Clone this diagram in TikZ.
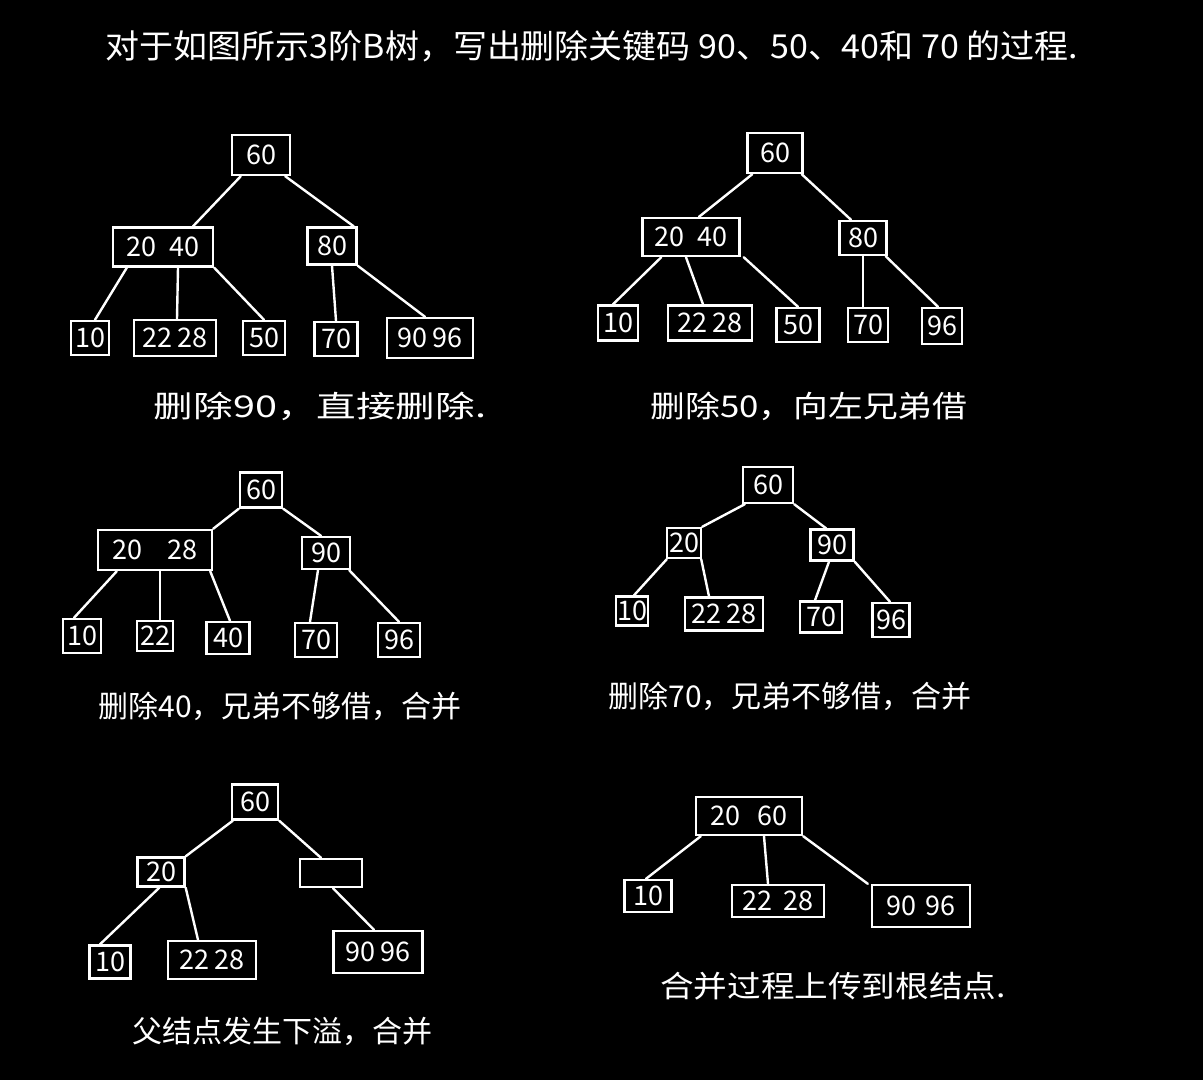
\documentclass[tikz,border=0pt]{standalone}
\usepackage{fontspec}
\usepackage{graphicx}
\setmainfont{Noto Sans CJK SC}
\begin{document}
\begin{tikzpicture}[x=1pt,y=-1pt,
  kbox/.style={draw=white,line width=2.4pt,text=white,inner sep=0pt,
    font=\fontsize{27}{29}\selectfont,minimum height=#1},
  kbox/.default=36pt,
  edge/.style={draw=white,line width=2.4pt,line cap=round},
  captxt/.style={text=white,font=\fontsize{30}{33}\selectfont,inner sep=0pt}]
\useasboundingbox (0,0) rectangle (1203,1080);
\fill[black] (0,0) rectangle (1203,1080);

\node[captxt,font=\fontsize{33}{36}\selectfont] (title) at (592,46) {\scalebox{1.03}[1]{对于如图所示3阶B树，写出删除关键码 90、50、40和 70 的过程.}};

% ---------- Tree 1 ----------
\node[kbox=40pt,minimum width=58pt] (a60) at (261,155) {60};
\node[kbox=39pt,minimum width=100pt] (a2040) at (163,247) {20\hspace{14pt}40};
\node[kbox=37pt,minimum width=49pt] (a80) at (332,246) {80};
\node[kbox=34pt,minimum width=38pt] (a10) at (90,338) {10};
\node[kbox=36pt,minimum width=82pt] (a2228) at (175,338) {22\hspace{6pt}28};
\node[kbox=34pt,minimum width=42pt] (a50) at (264,338) {50};
\node[kbox=34pt,minimum width=43pt] (a70) at (336,339) {70};
\node[kbox=40pt,minimum width=86pt] (a9096) at (430,338) {90\hspace{6pt}96};
\draw[edge] ([xshift=10pt]a60.south west) -- ([xshift=30pt]a2040.north);
\draw[edge] ([xshift=-6pt]a60.south east) -- ([xshift=-4pt]a80.north east);
\draw[edge] ([xshift=15pt]a2040.south west) -- ([xshift=5pt]a10.north);
\draw[edge] ([xshift=15pt]a2040.south) -- ([xshift=2pt]a2228.north);
\draw[edge] ([xshift=0pt]a2040.south east) -- ([xshift=0pt]a50.north);
\draw[edge] (a80.south) -- (a70.north);
\draw[edge] (a80.south east) -- ([xshift=-5pt]a9096.north);
\node[captxt] (c1) at (320,406) {\scalebox{1.32}[1]{删除90，直接删除.}};

% ---------- Tree 2 ----------
\node[kbox=40pt,minimum width=55pt] (b60) at (775,153) {60};
\node[kbox=38pt,minimum width=97pt] (b2040) at (691,237) {20\hspace{14pt}40};
\node[kbox=34pt,minimum width=47pt] (b80) at (863,238) {80};
\node[kbox=35pt,minimum width=40pt] (b10) at (618,323) {10};
\node[kbox=35pt,minimum width=84pt] (b2228) at (710,323) {22\hspace{6pt}28};
\node[kbox=34pt,minimum width=43pt] (b50) at (798,325) {50};
\node[kbox=34pt,minimum width=40pt] (b70) at (868,325) {70};
\node[kbox=36pt,minimum width=40pt] (b96) at (942,326) {96};
\draw[edge] ([xshift=6pt]b60.south west) -- ([xshift=8pt]b2040.north);
\draw[edge] ([xshift=-2pt]b60.south east) -- ([xshift=-12pt]b80.north);
\draw[edge] ([xshift=20pt]b2040.south west) -- ([xshift=-5pt]b10.north);
\draw[edge] ([xshift=-5pt]b2040.south) -- ([xshift=-7pt]b2228.north);
\draw[edge] ([xshift=3pt]b2040.south east) -- (b50.north);
\draw[edge] ([xshift=0pt]b80.south) -- ([xshift=-5pt]b70.north);
\draw[edge] ([xshift=-2pt]b80.south east) -- ([xshift=-4pt]b96.north);
\node[captxt] (c2) at (809,406) {\scalebox{1.16}[1]{删除50，向左兄弟借}};

% ---------- Tree 3 ----------
\node[kbox=35pt,minimum width=42pt] (d60) at (261,490) {60};
\node[kbox=40pt,minimum width=114pt] (d2028) at (155,550) {20\hspace{26pt}28};
\node[kbox=32pt,minimum width=48pt] (d90) at (326,553) {90};
\node[kbox=34pt,minimum width=38pt] (d10) at (82,636) {10};
\node[kbox=30pt,minimum width=36pt] (d22) at (155,636) {22};
\node[kbox=32pt,minimum width=43pt] (d40) at (228,638) {40};
\node[kbox=34pt,minimum width=42pt] (d70) at (316,640) {70};
\node[kbox=34pt,minimum width=42pt] (d96) at (399,640) {96};
\draw[edge] (d60.south west) -- (d2028.north east);
\draw[edge] (d60.south east) -- ([xshift=-5pt]d90.north);
\draw[edge] ([xshift=20pt]d2028.south west) -- ([xshift=-8pt]d10.north);
\draw[edge] ([xshift=5pt]d2028.south) -- ([xshift=5pt]d22.north);
\draw[edge] ([xshift=-3pt]d2028.south east) -- ([xshift=2pt]d40.north);
\draw[edge] ([xshift=-8pt]d90.south) -- ([xshift=-6pt]d70.north);
\draw[edge] ([xshift=-2pt]d90.south east) -- ([xshift=0pt]d96.north);
\node[captxt] (c3) at (280,706) {删除40，兄弟不够借，合并};

% ---------- Tree 4 ----------
\node[kbox=36pt,minimum width=50pt] (e60) at (768,485) {60};
\node[kbox=30pt,minimum width=34pt] (e20) at (684,543) {20};
\node[kbox=31pt,minimum width=43pt] (e90) at (832,545) {90};
\node[kbox=29pt,minimum width=32pt] (e10) at (632,611) {10};
\node[kbox=33pt,minimum width=78pt] (e2228) at (724,614) {22\hspace{5pt}28};
\node[kbox=31pt,minimum width=42pt] (e70) at (821,617) {70};
\node[kbox=34pt,minimum width=37pt] (e96) at (891,620) {96};
\draw[edge] ([xshift=3pt]e60.south west) -- (e20.north east);
\draw[edge] (e60.south east) -- ([xshift=-6pt]e90.north);
\draw[edge] ([xshift=1pt]e20.south west) -- ([xshift=2pt]e10.north);
\draw[edge] ([xshift=-1pt]e20.south east) -- ([xshift=-15pt]e2228.north);
\draw[edge] ([xshift=-3pt]e90.south) -- ([xshift=-6pt]e70.north);
\draw[edge] (e90.south east) -- ([xshift=-1pt]e96.north);
\node[captxt] (c4) at (790,696) {删除70，兄弟不够借，合并};

% ---------- Tree 5 ----------
\node[kbox=35pt,minimum width=46pt] (f60) at (255,802) {60};
\node[kbox=29pt,minimum width=47pt] (f20) at (161,872) {20};
\node[kbox=28pt,minimum width=62pt] (fempty) at (331,873) {};
\node[kbox=33pt,minimum width=41pt] (f10) at (110,962) {10};
\node[kbox=38pt,minimum width=88pt] (f2228) at (212,960) {22\hspace{5pt}28};
\node[kbox=42pt,minimum width=89pt] (f9096) at (378,952) {90\hspace{6pt}96};
\draw[edge] ([xshift=2pt]f60.south west) -- (f20.north east);
\draw[edge] (f60.south east) -- ([xshift=-10pt]fempty.north);
\draw[edge] ([xshift=23pt]f20.south west) -- ([xshift=-10pt]f10.north);
\draw[edge] (f20.south east) -- ([xshift=-14pt]f2228.north);
\draw[edge] ([xshift=2pt]fempty.south) -- ([xshift=-4pt]f9096.north);
\node[captxt] (c5) at (282,1031) {父结点发生下溢，合并};

% ---------- Tree 6 ----------
\node[kbox=38pt,minimum width=106pt] (g2060) at (749,816) {20\hspace{18pt}60};
\node[kbox=32pt,minimum width=47pt] (g10) at (648,896) {10};
\node[kbox=32pt,minimum width=92pt] (g2228) at (778,901) {22\hspace{12pt}28};
\node[kbox=42pt,minimum width=98pt] (g9096) at (921,906) {90\hspace{10pt}96};
\draw[edge] ([xshift=6pt]g2060.south west) -- ([xshift=-2pt]g10.north);
\draw[edge] ([xshift=15pt]g2060.south) -- ([xshift=-10pt]g2228.north);
\draw[edge] (g2060.south east) -- ([xshift=-3pt]g9096.north west);
\node[captxt] (c6) at (833,986) {\scalebox{1.12}[1]{合并过程上传到根结点.}};
\end{tikzpicture}
\end{document}
